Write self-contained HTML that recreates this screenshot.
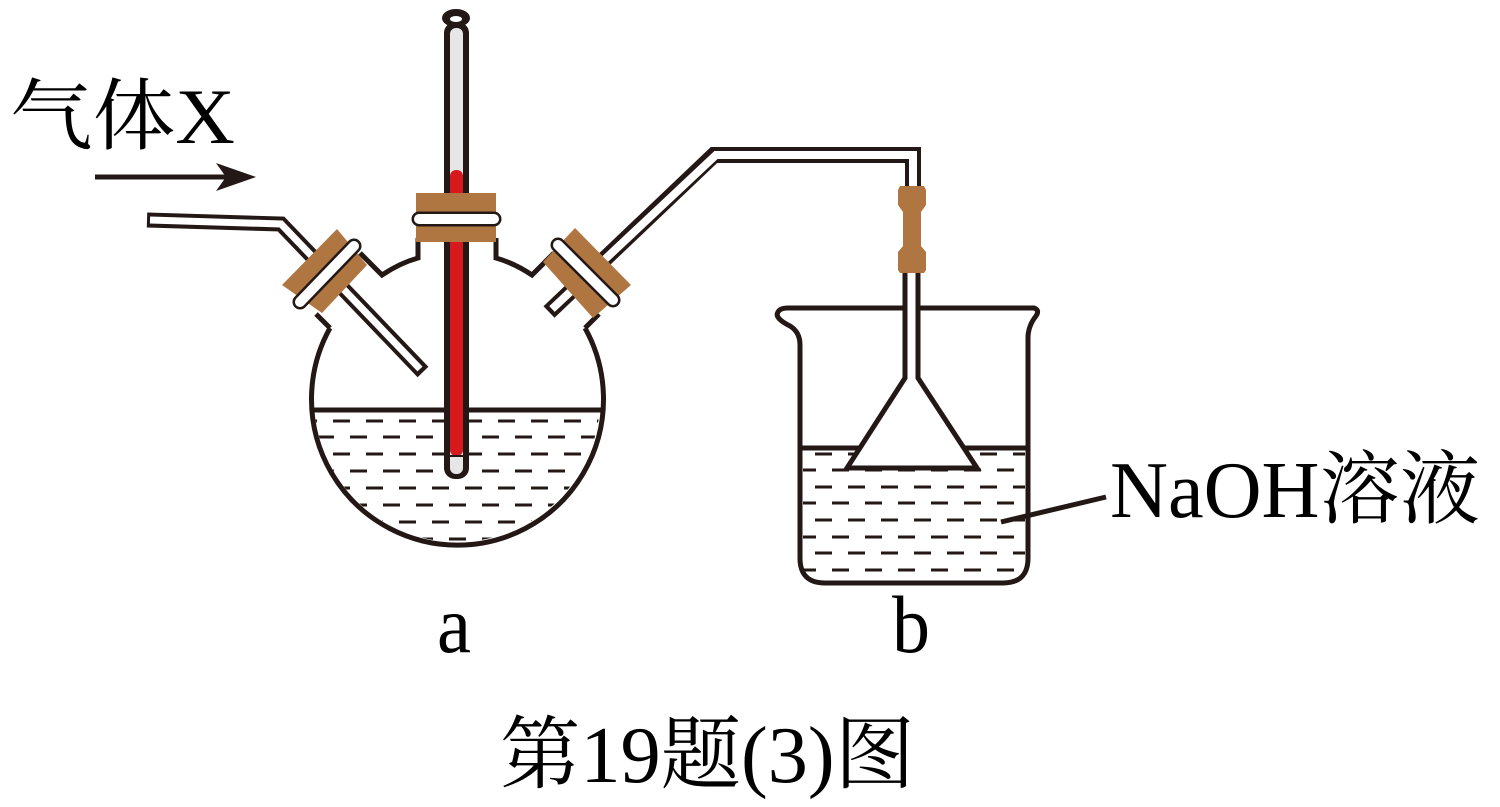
<!DOCTYPE html>
<html><head><meta charset="utf-8"><style>
html,body{margin:0;padding:0;background:#fff;}
svg{display:block;}
</style></head><body>
<svg width="1500" height="807" viewBox="0 0 1500 807" xmlns="http://www.w3.org/2000/svg">
<defs>
<clipPath id="fc"><rect x="300" y="412" width="310" height="140"/></clipPath>
<clipPath id="fcirc"><circle cx="457" cy="399" r="143"/></clipPath>
<clipPath id="bc"><rect x="803" y="450" width="222" height="130"/></clipPath>
</defs>
<g fill="none" stroke="#231815" stroke-width="5">
<g clip-path="url(#fcirc)"><g clip-path="url(#fc)" stroke-width="3" stroke-dasharray="17 16">
<line x1="300" y1="421" x2="610" y2="421" stroke-dashoffset="0"/>
<line x1="300" y1="437" x2="610" y2="437" stroke-dashoffset="16"/>
<line x1="300" y1="454" x2="610" y2="454" stroke-dashoffset="0"/>
<line x1="300" y1="471" x2="610" y2="471" stroke-dashoffset="16"/>
<line x1="300" y1="488" x2="610" y2="488" stroke-dashoffset="0"/>
<line x1="300" y1="505" x2="610" y2="505" stroke-dashoffset="16"/>
<line x1="300" y1="522" x2="610" y2="522" stroke-dashoffset="0"/>
<line x1="300" y1="539" x2="610" y2="539" stroke-dashoffset="16"/>
</g></g>
<line x1="311" y1="410" x2="603" y2="410"/>
<path d="M330,328 A146,146 0 1 0 585,328"/>
<path d="M330,328 L316,314"/>
<path d="M585,328 L599,314"/>
<path d="M360,253 L382,275 Q400,263 418,258 L418,238"/>
<path d="M554,253 L532,275 Q514,263 496,258 L496,238"/>
<g clip-path="url(#bc)" stroke-width="3" stroke-dasharray="17 16">
<line x1="782" y1="454" x2="1030" y2="454" stroke-dashoffset="0"/>
<line x1="782" y1="470" x2="1030" y2="470" stroke-dashoffset="16"/>
<line x1="782" y1="487" x2="1030" y2="487" stroke-dashoffset="0"/>
<line x1="782" y1="503" x2="1030" y2="503" stroke-dashoffset="16"/>
<line x1="782" y1="520" x2="1030" y2="520" stroke-dashoffset="0"/>
<line x1="782" y1="537" x2="1030" y2="537" stroke-dashoffset="16"/>
<line x1="782" y1="553" x2="1030" y2="553" stroke-dashoffset="0"/>
<line x1="782" y1="570" x2="1030" y2="570" stroke-dashoffset="16"/>
</g>
<line x1="800" y1="448" x2="1028" y2="448"/>
<path d="M800,345 Q800,332 790,326 Q774,318 778,312 Q780,308 788,308 L1034,308 Q1040,310 1036,316 Q1028,326 1028,338 L1028,558 Q1028,583 1003,583 L825,583 Q800,583 800,558 Z"/>
<line x1="1001" y1="522" x2="1106" y2="497"/>
<line x1="95" y1="177" x2="235" y2="177"/>
</g>
<polygon points="256,177 216,163 226,177 216,191" fill="#231815"/>
<path d="M147,220 L281,224 L423,372" fill="none" stroke="#231815" stroke-width="15"/>
<path d="M150,220 L281,224 L420,369" fill="none" stroke="#fff" stroke-width="7"/>
<path d="M549,312 L714,155 L913,155 L913,200" fill="none" stroke="#231815" stroke-width="16"/>
<path d="M552,309 L716,155 L913,155 L913,200" fill="none" stroke="#fff" stroke-width="8"/>
<path d="M905,270 L905,378 L847,468 L977,468 L918,378 L918,270" fill="#fff" stroke="#231815" stroke-width="5"/>
<path d="M900,186 L924,186 L926,190 L926,205 L921,212 L921,246 L926,252 L926,270 L924,273 L900,273 L898,270 L898,252 L903,246 L903,212 L898,205 L898,190 Z" fill="#b07642"/>
<polygon points="282,285 337,229 367,265 322,313" fill="#b07642"/>
<line x1="300" y1="302" x2="354" y2="246" stroke="#231815" stroke-width="15" stroke-linecap="round"/>
<line x1="300" y1="302" x2="354" y2="246" stroke="#fff" stroke-width="10" stroke-linecap="round"/>
<polygon points="575,228 631,285 593,318 543,262" fill="#b07642"/>
<line x1="558" y1="245" x2="613" y2="300" stroke="#231815" stroke-width="15" stroke-linecap="round"/>
<line x1="558" y1="245" x2="613" y2="300" stroke="#fff" stroke-width="10" stroke-linecap="round"/>
<!-- thermometer -->
<rect x="444" y="22" width="25" height="457" rx="11" fill="#231815"/>
<rect x="450" y="28" width="13" height="446" rx="6" fill="#e6e6e6"/>
<rect x="450" y="170" width="13" height="286" rx="6" fill="#d7191d"/>
<line x1="450" y1="456" x2="463" y2="456" stroke="#231815" stroke-width="2"/>
<ellipse cx="456" cy="18" rx="14" ry="9" fill="#231815"/>
<ellipse cx="456" cy="19" rx="6" ry="3" fill="#fff"/>
<!-- center stopper over thermometer -->
<rect x="416" y="193" width="80" height="49" fill="#b07642"/>
<line x1="419" y1="219" x2="494" y2="219" stroke="#231815" stroke-width="15" stroke-linecap="round"/>
<line x1="419" y1="219" x2="494" y2="219" stroke="#fff" stroke-width="10" stroke-linecap="round"/>
<g font-family="'Liberation Serif','Noto Serif CJK SC',serif" fill="#000">
<text x="10" y="143" font-size="78" textLength="225" lengthAdjust="spacingAndGlyphs">气体X</text>
<text x="1110" y="517" font-size="80" textLength="370" lengthAdjust="spacingAndGlyphs">NaOH溶液</text>
<text x="437" y="652" font-size="82" textLength="34" lengthAdjust="spacingAndGlyphs">a</text>
<text x="892" y="652" font-size="82" textLength="38" lengthAdjust="spacingAndGlyphs">b</text>
<text x="500" y="782" font-size="80" textLength="415" lengthAdjust="spacingAndGlyphs">第19题(3)图</text>
</g>
</svg>
</body></html>
